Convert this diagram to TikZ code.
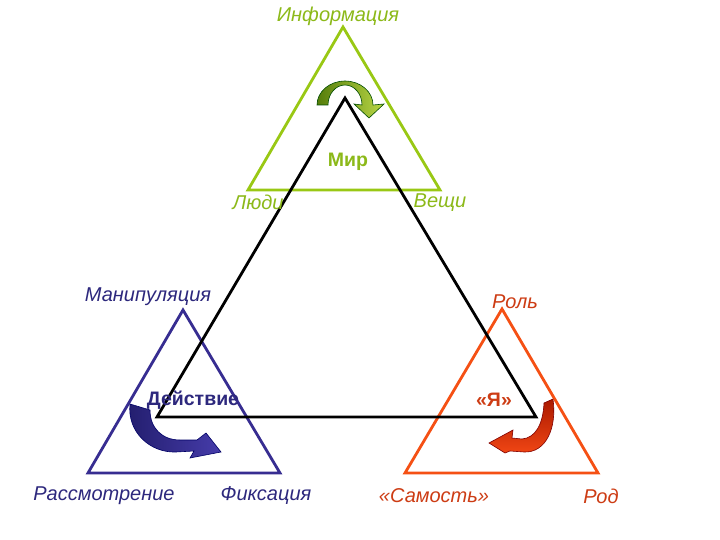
\documentclass[tikz,border=0pt]{standalone}
\usepackage{fontspec}
\setmainfont{Liberation Sans}
\definecolor{cgreen}{RGB}{153,200,20}
\definecolor{tgreen}{RGB}{140,185,25}
\definecolor{cblue}{RGB}{55,45,145}
\definecolor{tblue}{RGB}{45,40,125}
\definecolor{cred}{RGB}{245,80,20}
\definecolor{tred}{RGB}{205,60,20}
\begin{document}
\begin{tikzpicture}[x=1pt,y=-1pt,
  tri/.style={line width=2.8pt, line join=miter},
  lab/.style={font=\fontsize{20}{20}\selectfont\itshape, inner sep=0pt},
  core/.style={font=\fontsize{19.5}{19.5}\selectfont\bfseries, inner sep=0pt}]
\useasboundingbox[fill=white] (0,0) rectangle (720,540);
% vertices
\coordinate (G1) at (343,27);
\coordinate (G2) at (248,190);
\coordinate (G3) at (440,190);
\coordinate (B1) at (183,310);
\coordinate (B2) at (88,473);
\coordinate (B3) at (280,473);
\coordinate (R1) at (502,309);
\coordinate (R2) at (405,473);
\coordinate (R3) at (598,473);
\coordinate (K1) at (345,98);
\coordinate (K2) at (157,417);
\coordinate (K3) at (536,417);
% coloured triangles
\draw[tri,cgreen] (G1) -- (G2) -- (G3) -- cycle;
\draw[tri,cblue] (B1) -- (B2) -- (B3) -- cycle;
\draw[tri,cred] (R1) -- (R2) -- (R3) -- cycle;
% black triangle
\draw[tri,black] (K1) -- (K2) -- (K3) -- cycle;
% green curved arrow
\draw[line width=0.6pt, draw=black!70!green, left color={rgb,255:red,85;green,125;blue,10}, right color={rgb,255:red,185;green,215;blue,70}]
  (317,105) arc[start angle=180, end angle=360, x radius=28, y radius=24]
  -- (384,104) -- (369,118) -- (354,104) -- (362,105)
  arc[start angle=0, end angle=-180, x radius=17, y radius=20] -- cycle;
% blue curved arrow
\draw[line width=0.6pt, draw=black!60!blue, left color={rgb,255:red,35;green,30;blue,110}, right color={rgb,255:red,70;green,60;blue,170}]
  (130,404) .. controls (127,432) and (150,453) .. (176,452)
  -- (194,451) -- (190,458) -- (221,452) -- (206,433) -- (197,440)
  -- (180,440) .. controls (162,440) and (150,428) .. (150,410) -- cycle;
% red curved arrow
\draw[line width=0.6pt, draw=black!50!red, top color={rgb,255:red,170;green,25;blue,0}, bottom color={rgb,255:red,240;green,70;blue,20}]
  (553,399) .. controls (557,428) and (546,453) .. (524,452)
  -- (510,451) -- (505,453) -- (489,443) -- (513,430) -- (512,438)
  -- (522,439) .. controls (535,438) and (543,425) .. (544,403) -- cycle;
% labels
\node[lab, text=tgreen] (inf) at (338,16) {Информация};
\node[core, text=tgreen] (mir) at (348,162) {Мир};
\node[lab, text=tgreen] (ljudi) at (258,202) {Люди};
\node[lab, text=tgreen] (veschi) at (440,203) {Вещи};
\node[lab, text=tblue] (manip) at (148,297) {Манипуляция};
\node[core, text=tblue] (dejst) at (193,400) {Действие};
\node[lab, text=tblue] (rassm) at (104,496) {Рассмотрение};
\node[lab, text=tblue] (fiks) at (266,496) {Фиксация};
\node[lab, text=tred] (rol) at (515,302) {Роль};
\node[core, text=tred] (ja) at (494,400) {«Я»};
\node[lab, text=tred] (samost) at (434,496) {«Самость»};
\node[lab, text=tred] (rod) at (601,496) {Род};
\end{tikzpicture}
\end{document}
